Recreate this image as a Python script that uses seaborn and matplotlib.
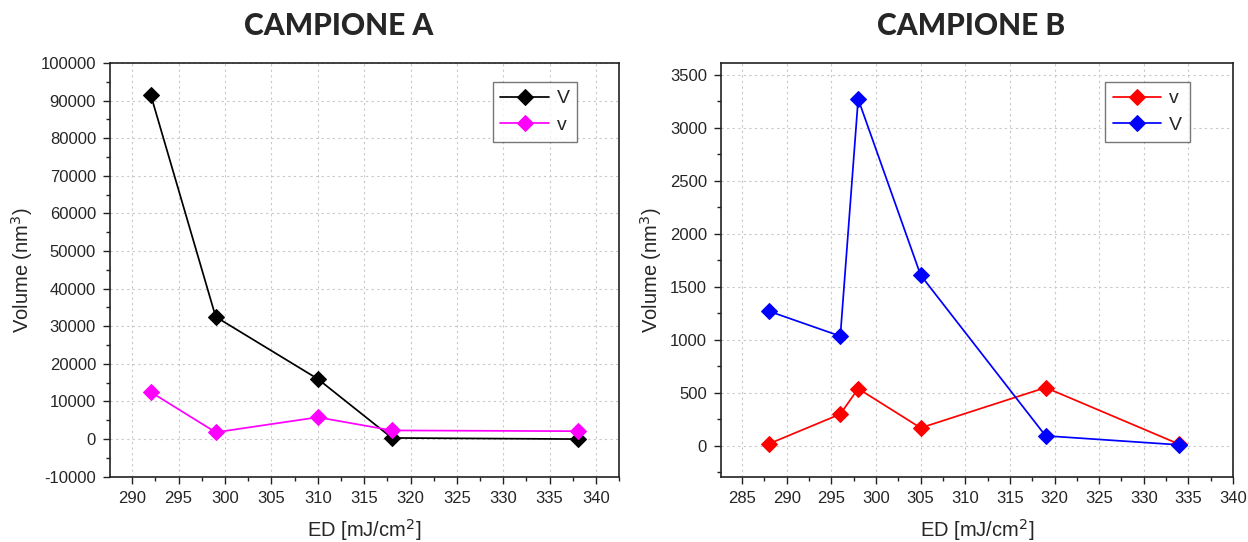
import matplotlib
matplotlib.use("Agg")
import matplotlib.pyplot as plt
from matplotlib.ticker import MultipleLocator, AutoMinorLocator
import seaborn as sns
import pandas as pd

# Sample A
ed_a = [292, 299, 310, 318, 338]
big_v_a = [91500, 32500, 16000, 300, 0]
small_v_a = [12500, 1800, 5800, 2300, 2100]

# Sample B
ed_b = [288, 296, 298, 305, 319, 334]
small_v_b = [20, 300, 540, 170, 550, 15]
big_v_b = [1270, 1035, 3270, 1610, 95, 10]

sns.set_style("ticks")
plt.rcParams['font.family'] = ['Liberation Sans', 'DejaVu Sans']
plt.rcParams['axes.unicode_minus'] = False

fig = plt.figure(figsize=(12.48, 5.42), dpi=100)
ax_a = fig.add_axes([0.0881, 0.1205, 0.4081, 0.7633])
ax_b = fig.add_axes([0.5775, 0.1205, 0.4105, 0.7633])


def draw(ax, x, series, xlim, ylim, xmajor, ymajor, legend_anchor):
    for name, values, color in series:
        df = pd.DataFrame({"ED": x, "Volume": values})
        sns.lineplot(data=df, x="ED", y="Volume", sort=False, ax=ax,
                     color=color, marker="D", markersize=8,
                     markeredgecolor=color, linewidth=1.25, label=name)
    ax.set_xlim(*xlim)
    ax.set_ylim(*ylim)
    ax.xaxis.set_major_locator(MultipleLocator(xmajor))
    ax.yaxis.set_major_locator(MultipleLocator(ymajor))
    ax.xaxis.set_minor_locator(AutoMinorLocator(2))
    ax.yaxis.set_minor_locator(AutoMinorLocator(2))
    ax.grid(True, which="major", linestyle=(0, (2, 3)), color="#c8c8c8",
            linewidth=0.8)
    ax.tick_params(which="major", direction="out", length=5, width=1.0,
                   labelsize=12, color="#222222", pad=5)
    ax.tick_params(which="minor", direction="out", length=3, width=1.0,
                   color="#222222")
    for sp in ax.spines.values():
        sp.set_visible(True)
        sp.set_linewidth(1.2)
        sp.set_color("#222222")
    ax.set_xlabel("ED [mJ/cm$^2$]", fontsize=14.5, labelpad=8)
    ax.set_ylabel("Volume (nm$^3$)", fontsize=14.5, labelpad=4)
    leg = ax.legend(loc="upper right", bbox_to_anchor=legend_anchor,
                    frameon=True, fancybox=False, fontsize=14,
                    handlelength=2.5, handletextpad=0.4,
                    borderpad=0.4, labelspacing=0.45, borderaxespad=0)
    leg.get_frame().set_edgecolor("#555555")
    leg.get_frame().set_linewidth(1.0)


draw(ax_a, ed_a,
     [("V", big_v_a, "black"), ("v", small_v_a, "#ff00ff")],
     (287.6, 342.5), (-10000, 100000), 5, 10000, (0.918, 0.954))
draw(ax_b, ed_b,
     [("v", small_v_b, "#ff0000"), ("V", big_v_b, "#0000ff")],
     (282.6, 340), (-290, 3610), 5, 500, (0.916, 0.954))

fig.text(0.271, 0.952, "CAMPIONE A", ha="center", va="center",
         fontsize=21.5, fontweight="black", family="Lato")
fig.text(0.778, 0.952, "CAMPIONE B", ha="center", va="center",
         fontsize=21.5, fontweight="black", family="Lato")

fig.savefig("out.png", dpi=100, facecolor="white")
